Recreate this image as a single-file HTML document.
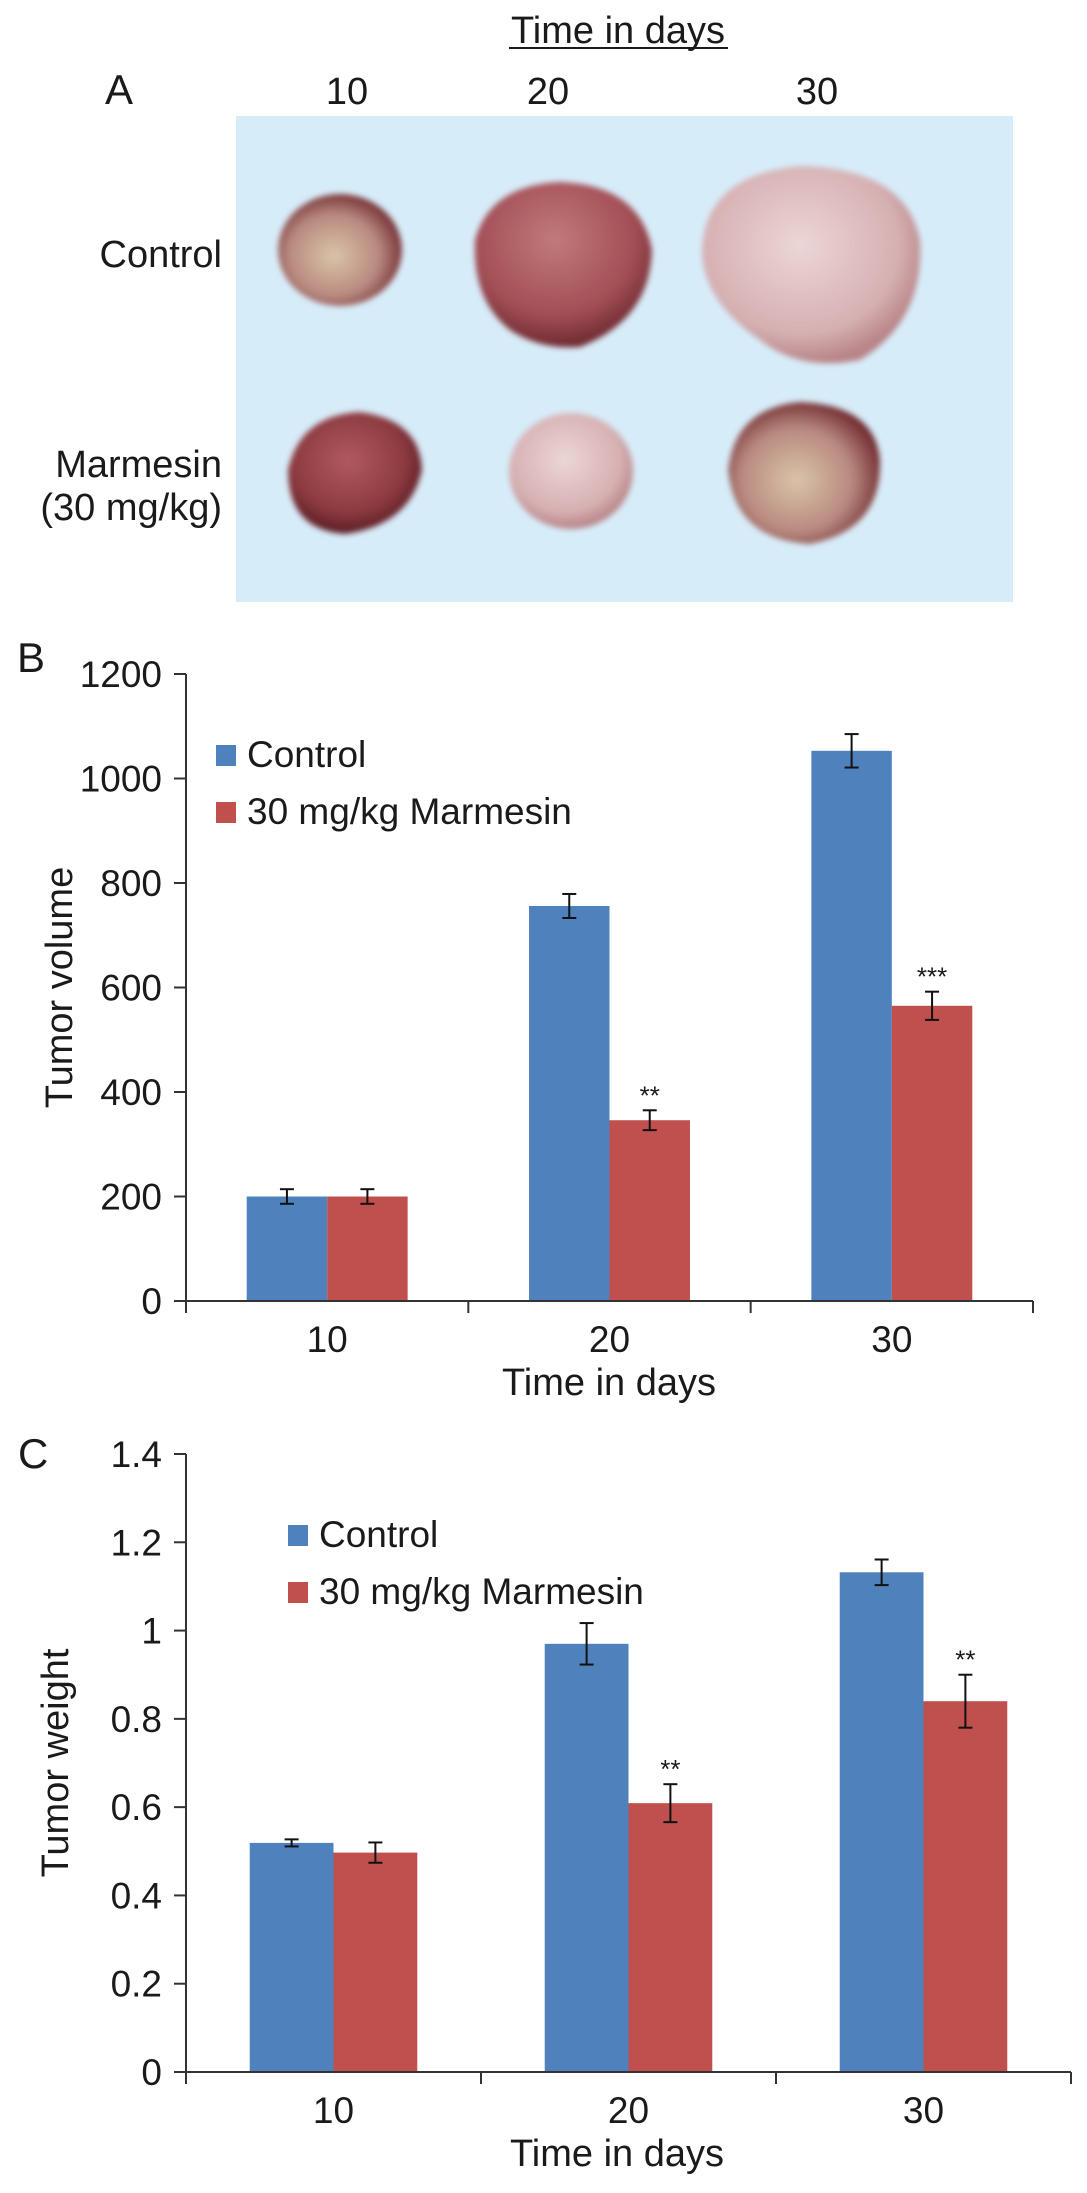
<!DOCTYPE html>
<html><head><meta charset="utf-8"><style>
html,body{margin:0;padding:0;background:#fff}
svg{display:block}
text{font-family:"Liberation Sans",Arial,sans-serif;fill:#1a1a1a}
</style></head><body>
<svg id="fig" width="1087" height="2193" viewBox="0 0 1087 2193" xmlns="http://www.w3.org/2000/svg">
<defs>
<filter id="blur" x="-20%" y="-20%" width="140%" height="140%"><feGaussianBlur stdDeviation="3"/></filter>
<radialGradient id="gDark" cx="45%" cy="40%" r="60%"><stop offset="0" stop-color="#b05a60"/><stop offset="0.7" stop-color="#8c3a40"/><stop offset="1" stop-color="#5a1e24"/></radialGradient>
<radialGradient id="gMid" cx="45%" cy="35%" r="65%"><stop offset="0" stop-color="#c27a7c"/><stop offset="0.7" stop-color="#a24e55"/><stop offset="1" stop-color="#6e2a30"/></radialGradient>
<radialGradient id="gPale" cx="45%" cy="40%" r="60%"><stop offset="0" stop-color="#ecd6d6"/><stop offset="0.75" stop-color="#d6b0b2"/><stop offset="1" stop-color="#b88487"/></radialGradient>
<radialGradient id="gMix" cx="45%" cy="55%" r="60%"><stop offset="0" stop-color="#d9c4a8"/><stop offset="0.6" stop-color="#b98a80"/><stop offset="1" stop-color="#6a2228"/></radialGradient>
</defs>

<!-- Panel A -->
<g>
<text x="105" y="104" font-size="42">A</text>
<text x="618" y="43" font-size="38" text-anchor="middle">Time in days</text>
<line x1="509" y1="48" x2="728" y2="48" stroke="#1a1a1a" stroke-width="2"/>
<text x="347" y="104" font-size="38" text-anchor="middle">10</text>
<text x="548" y="104" font-size="38" text-anchor="middle">20</text>
<text x="817" y="104" font-size="38" text-anchor="middle">30</text>
<text x="222" y="267" font-size="38" text-anchor="end">Control</text>
<text x="222" y="477" font-size="38" text-anchor="end">Marmesin</text>
<text x="222" y="520" font-size="38" text-anchor="end">(30 mg/kg)</text>
<rect x="236" y="116" width="777" height="486" fill="#d7ecf9"/>
<g filter="url(#blur)">
<ellipse cx="340" cy="250" rx="62" ry="56" fill="url(#gMix)"/>
<path d="M475 240 Q490 185 560 182 Q640 185 652 250 Q650 320 580 347 Q540 350 510 330 Q472 300 475 240Z" fill="url(#gMid)"/>
<path d="M702 250 Q705 175 800 166 Q905 168 920 240 Q925 320 860 360 Q800 372 760 340 Q702 300 702 250Z" fill="url(#gPale)"/>
<path d="M288 470 Q300 415 360 412 Q420 420 422 470 Q410 525 345 534 Q288 530 288 470Z" fill="url(#gDark)"/>
<ellipse cx="571" cy="471" rx="62" ry="58" fill="url(#gPale)"/>
<path d="M728 470 Q735 408 800 402 Q875 405 880 460 Q882 530 810 544 Q735 540 728 470Z" fill="url(#gMix)"/>
</g>
</g>

<g id="chartB"></g>
<g id="chartC"></g>
</svg>

<script>
var categories = ["10", "20", "30"];
var volControl = [200, 756, 1053];
var volMarmesin = [200, 346, 565];
var volControlErr = [14, 23, 32];
var volMarmesinErr = [14, 19, 27];
var volSig = ["", "**", "***"];
var volTicks = [0, 200, 400, 600, 800, 1000, 1200];
var volTickLabels = ["0", "200", "400", "600", "800", "1000", "1200"];

var wtControl = [0.519, 0.970, 1.132];
var wtMarmesin = [0.497, 0.609, 0.840];
var wtControlErr = [0.008, 0.047, 0.029];
var wtMarmesinErr = [0.023, 0.043, 0.060];
var wtSig = ["", "**", "**"];
var wtTicks = [0, 0.2, 0.4, 0.6, 0.8, 1.0, 1.2, 1.4];
var wtTickLabels = ["0", "0.2", "0.4", "0.6", "0.8", "1", "1.2", "1.4"];

var NS = "http://www.w3.org/2000/svg";
function mk(parent, tag, attrs, txt) {
  var e = document.createElementNS(NS, tag);
  for (var k in attrs) e.setAttribute(k, attrs[k]);
  if (txt !== undefined) e.textContent = txt;
  parent.appendChild(e);
  return e;
}

function drawChart(g, cfg) {
  var x0 = cfg.x0, x1 = cfg.x1, yTop = cfg.yTop, yBot = cfg.yBot;
  var yS = function (v) { return yBot - (v - cfg.min) / (cfg.max - cfg.min) * (yBot - yTop); };
  var band = (x1 - x0) / cfg.cats.length;
  var bw = band * cfg.barFrac;
  var e;

  e = mk(g, "text", {x: cfg.letterX, y: cfg.letterY, "font-size": 42}, cfg.letter);
  
  

  for (var i = 0; i < cfg.ticks.length; i++) {
    var y = yS(cfg.ticks[i]);
    e = mk(g, "line", {x1: x0 - 12, x2: x0, y1: y, y2: y, stroke: "#333", "stroke-width": 2});
    
    
    e = mk(g, "text", {x: x0 - 24, y: y + 13, "font-size": 37, "text-anchor": "end"}, cfg.tickLabels[i]);
    
    
  }

  for (var c = 0; c < cfg.cats.length; c++) {
    var cx = x0 + band * (c + 0.5);
    var vals = [cfg.a[c], cfg.b[c]];
    var errs = [cfg.aErr[c], cfg.bErr[c]];
    var cols = ["#4f81bd", "#c0504d"];
    for (var s = 0; s < 2; s++) {
      var bx = cx - bw + s * bw;
      var top = yS(vals[s]);
      e = mk(g, "rect", {x: bx, y: top, width: bw, height: yBot - top, fill: cols[s]});
      
      
      var mx = bx + bw / 2, yh = yS(vals[s] + errs[s]), yl = yS(vals[s] - errs[s]);
      var eg = mk(g, "g", {stroke: "#111", "stroke-width": 2});
      
      
      mk(eg, "line", {x1: mx, x2: mx, y1: yh, y2: yl});
      mk(eg, "line", {x1: mx - 7, x2: mx + 7, y1: yh, y2: yh});
      mk(eg, "line", {x1: mx - 7, x2: mx + 7, y1: yl, y2: yl});
      if (s === 1 && cfg.sig[c]) {
        e = mk(g, "text", {x: mx, y: yh - 6, "font-size": 26, "text-anchor": "middle"}, cfg.sig[c]);
        
        
      }
    }
    e = mk(g, "text", {x: cx, y: yBot + 51, "font-size": 37, "text-anchor": "middle"}, cfg.cats[c]);
    
    
    e = mk(g, "line", {x1: x0 + band * (c + 1), x2: x0 + band * (c + 1), y1: yBot, y2: yBot + 12, stroke: "#333", "stroke-width": 2});
    
    
  }

  e = mk(g, "line", {x1: x0, x2: x0, y1: yTop, y2: yBot + 12, stroke: "#333", "stroke-width": 2});
  
  
  e = mk(g, "line", {x1: x0 - 12, x2: x1, y1: yBot, y2: yBot, stroke: "#333", "stroke-width": 2});
  
  

  e = mk(g, "text", {x: cfg.xTitleX, y: yBot + 94, "font-size": 38, "text-anchor": "middle"}, "Time in days");
  
  
  var ty = (yTop + yBot) / 2;
  e = mk(g, "text", {x: cfg.yTitleX, y: ty, "font-size": 38, "text-anchor": "middle", transform: "rotate(-90 " + cfg.yTitleX + " " + ty + ")"}, cfg.yTitle);
  
  

  e = mk(g, "rect", {x: cfg.legX, y: cfg.legY, width: 20, height: 21, fill: "#4f81bd"});
  
  
  e = mk(g, "text", {x: cfg.legX + 31, y: cfg.legY + 22, "font-size": 37}, "Control");
  
  
  e = mk(g, "rect", {x: cfg.legX, y: cfg.legY + 57, width: 20, height: 21, fill: "#c0504d"});
  
  
  e = mk(g, "text", {x: cfg.legX + 31, y: cfg.legY + 79, "font-size": 37}, "30 mg/kg Marmesin");
  
  
}

drawChart(document.getElementById("chartB"), {
  x0: 186, x1: 1033, yTop: 674, yBot: 1301, min: 0, max: 1200,
  cats: categories, a: volControl, b: volMarmesin, aErr: volControlErr, bErr: volMarmesinErr, sig: volSig,
  ticks: volTicks, tickLabels: volTickLabels, barFrac: 0.285,
  letter: "B", letterX: 17, letterY: 672, yTitle: "Tumor volume", yTitleX: 72, xTitleX: 609,
  legX: 216, legY: 745
});
drawChart(document.getElementById("chartC"), {
  x0: 186, x1: 1071, yTop: 1454, yBot: 2072, min: 0, max: 1.4,
  cats: categories, a: wtControl, b: wtMarmesin, aErr: wtControlErr, bErr: wtMarmesinErr, sig: wtSig,
  ticks: wtTicks, tickLabels: wtTickLabels, barFrac: 0.284,
  letter: "C", letterX: 18, letterY: 1468, yTitle: "Tumor weight", yTitleX: 68, xTitleX: 617,
  legX: 288, legY: 1525
});
</script>
</body></html>
